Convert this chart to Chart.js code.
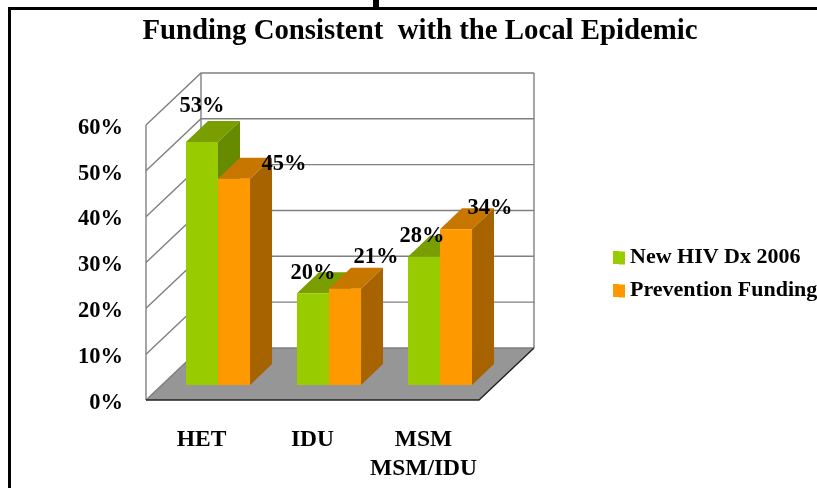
<!DOCTYPE html>
<html><head><meta charset="utf-8">
<style>html,body{margin:0;padding:0;background:#fff;overflow:hidden}canvas{display:block}</style>
<script src="https://cdn.jsdelivr.net/npm/chart.js@4"></script>
</head><body><canvas id="c" width="817" height="488"></canvas>
<script>
const categories = ["HET", "IDU", ["MSM", "MSM/IDU"]];
const newHivDx = [53, 20, 28];
const preventionFunding = [45, 21, 34];
const yTicks = [0, 10, 20, 30, 40, 50, 60];

const FONT = '"Liberation Serif","Times New Roman",serif';
const WALL = {dx: 55, dy: -52};
const BAR_DEPTH = {dx: 22, dy: -21};
const BAR_SHIFT = {dx: 16.5, dy: -15};
const shades = [
  {front: '#99CC00', top: '#7A9E00', side: '#668A00'},
  {front: '#FF9900', top: '#C77700', side: '#A66300'}
];
const labelOffsets = [
  [[0, -36], [0, -20], [-2, -20]],
  [[50, -15], [31, -32], [34, -21]]
];

function poly(ctx, pts, fill) {
  ctx.beginPath();
  pts.forEach((p, i) => i ? ctx.lineTo(p[0], p[1]) : ctx.moveTo(p[0], p[1]));
  ctx.closePath();
  ctx.fillStyle = fill;
  ctx.fill();
}

const scene = {
  id: 'scene',
  beforeDraw(chart) {
    const ctx = chart.ctx;
    ctx.save();
    ctx.fillStyle = '#fff';
    ctx.fillRect(0, 0, chart.width, chart.height);
    ctx.fillStyle = '#000';
    ctx.fillRect(8, 7, 809, 3);
    ctx.fillRect(8, 7, 3, 481);
    ctx.fillRect(373, 0, 6, 8);
    ctx.restore();
  },
  beforeDatasetsDraw(chart) {
    const ctx = chart.ctx, y = chart.scales.y, a = chart.chartArea;
    const y0 = y.getPixelForValue(0), yT = y.getPixelForValue(60);
    ctx.save();
    poly(ctx, [[a.left, y0], [a.right, y0], [a.right + WALL.dx, y0 + WALL.dy], [a.left + WALL.dx, y0 + WALL.dy]], '#969696');
    ctx.strokeStyle = '#808080';
    ctx.lineWidth = 1.4;
    yTicks.forEach(v => {
      const p = y.getPixelForValue(v);
      ctx.beginPath();
      ctx.moveTo(a.left, p);
      ctx.lineTo(a.left + WALL.dx, p + WALL.dy);
      ctx.lineTo(a.right + WALL.dx, p + WALL.dy);
      ctx.stroke();
    });
    ctx.beginPath();
    ctx.moveTo(a.left, yT); ctx.lineTo(a.left, y0);
    ctx.moveTo(a.left + WALL.dx, yT + WALL.dy); ctx.lineTo(a.left + WALL.dx, y0 + WALL.dy);
    ctx.moveTo(a.right + WALL.dx, yT + WALL.dy); ctx.lineTo(a.right + WALL.dx, y0 + WALL.dy);
    ctx.stroke();
    ctx.strokeStyle = '#222';
    ctx.beginPath();
    ctx.moveTo(a.left, y0); ctx.lineTo(a.right, y0); ctx.lineTo(a.right + WALL.dx, y0 + WALL.dy);
    ctx.stroke();
    // depth faces of the bars, left series first, so the fronts drawn next sit on top
    ctx.translate(BAR_SHIFT.dx, BAR_SHIFT.dy);
    chart.data.datasets.forEach((d, i) => {
      const s = shades[i];
      chart.getDatasetMeta(i).data.forEach(b => {
        const l = b.x - b.width / 2, r = b.x + b.width / 2, t = b.y, g = b.base;
        const dx = BAR_DEPTH.dx, dy = BAR_DEPTH.dy;
        poly(ctx, [[l, t], [r, t], [r + dx, t + dy], [l + dx, t + dy]], s.top);
        poly(ctx, [[r, t], [r + dx, t + dy], [r + dx, g + dy], [r, g]], s.side);
      });
    });
    ctx.restore();
  },
  beforeDatasetDraw(chart) {
    chart.ctx.save();
    chart.ctx.translate(BAR_SHIFT.dx, BAR_SHIFT.dy);
  },
  afterDatasetDraw(chart) {
    chart.ctx.restore();
  },
  afterDraw(chart) {
    const ctx = chart.ctx;
    ctx.save();
    chart.legend.legendHitBoxes.forEach((h, i) => {
      ctx.fillStyle = shades[i].front;
      ctx.fillRect(h.left + 6, h.top + 5, 6, 13);
    });
    ctx.font = 'bold 22.5px ' + FONT;
    ctx.fillStyle = '#000';
    ctx.textAlign = 'center';
    ctx.textBaseline = 'middle';
    chart.data.datasets.forEach((d, i) => {
      chart.getDatasetMeta(i).data.forEach((b, j) => {
        const o = labelOffsets[i][j];
        ctx.fillText(d.data[j] + '%', b.x + BAR_SHIFT.dx + o[0], b.y + BAR_SHIFT.dy + o[1]);
      });
    });
    ctx.restore();
  }
};

new Chart(document.getElementById('c'), {
  type: 'bar',
  data: {
    labels: categories,
    datasets: [
      {label: 'New HIV Dx 2006', data: newHivDx, backgroundColor: shades[0].front},
      {label: 'Prevention Funding', data: preventionFunding, backgroundColor: shades[1].front}
    ]
  },
  options: {
    responsive: false,
    animation: false,
    layout: {padding: {left: 23, right: 0, top: 0, bottom: 0}},
    datasets: {bar: {barPercentage: 1, categoryPercentage: 0.577, clip: false}},
    plugins: {
      tooltip: {enabled: false},
      title: {
        display: true,
        text: 'Funding Consistent  with the Local Epidemic',
        color: '#000',
        font: {family: FONT, size: 28.8, weight: 'bold', lineHeight: 1.2},
        padding: {top: 14, bottom: 76.4}
      },
      legend: {
        position: 'right',
        maxWidth: 215,
        title: {display: true, text: ' ', padding: 24, font: {size: 10, lineHeight: 1.2}},
        labels: {
          color: '#000',
          boxWidth: 6,
          boxHeight: 13,
          padding: 11,
          font: {family: FONT, size: 22, weight: 'bold'}
        }
      }
    },
    scales: {
      x: {
        grid: {display: false, drawTicks: false},
        border: {display: false},
        ticks: {color: '#000', maxRotation: 0, autoSkip: false, padding: 25,
          font: {family: FONT, size: 23.5, weight: 'bold', lineHeight: 1.234}},
        afterFit(s) { s.height = 88; }
      },
      y: {
        min: 0, max: 60,
        grid: {display: false, drawTicks: false},
        border: {display: false},
        ticks: {color: '#000', stepSize: 10, padding: 23,
          font: {family: FONT, size: 22.5, weight: 'bold', lineHeight: 0.27},
          callback: v => ['', v + '%']},
        afterFit(s) { s.width = 123; }
      },
      spacer: {
        position: 'right',
        display: true,
        grid: {display: false, drawTicks: false},
        border: {display: false},
        ticks: {display: false},
        afterFit(s) { s.width = 123; }
      }
    }
  },
  plugins: [scene]
});
</script>
</body></html>
